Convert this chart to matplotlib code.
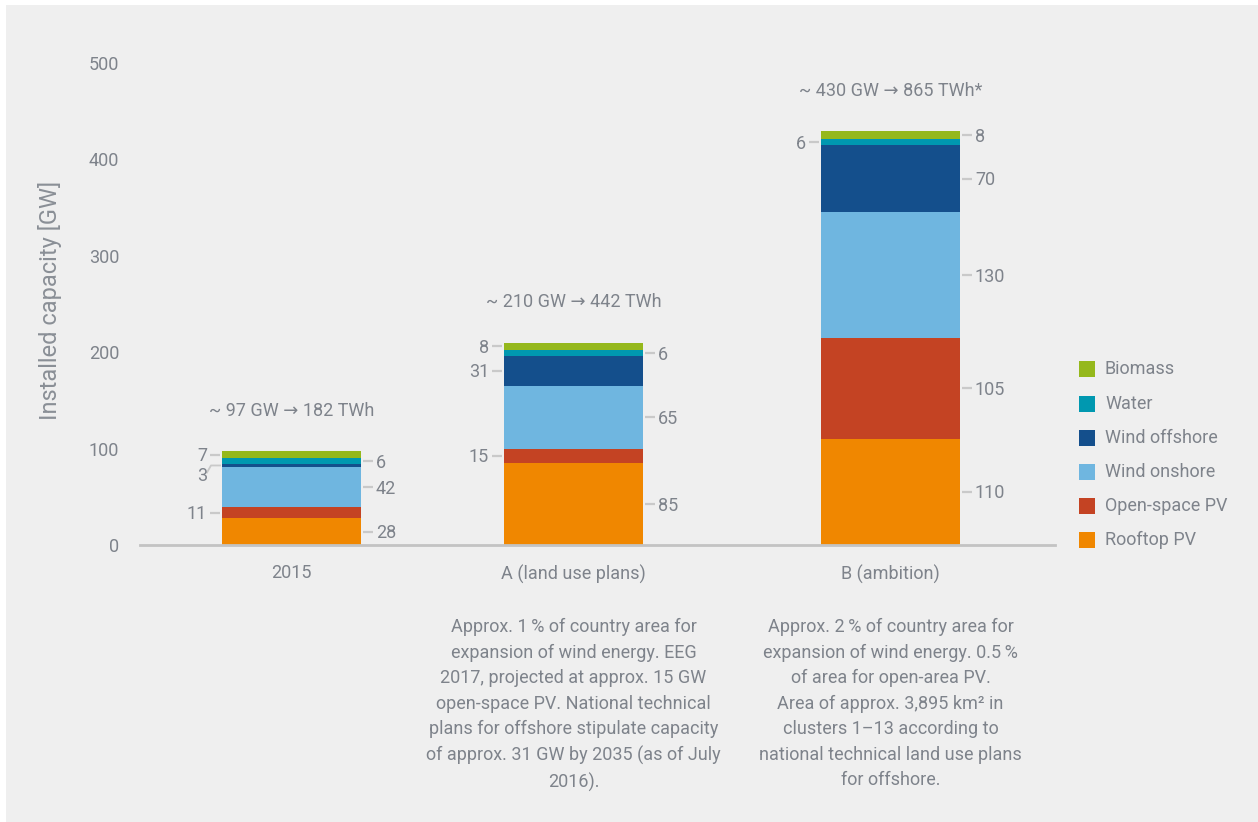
import matplotlib
matplotlib.use("Agg")
import matplotlib.pyplot as plt
from matplotlib.patches import Rectangle

# ---------------- data ----------------
scenarios = ["2015", "A (land use plans)", "B (ambition)"]
sources = ["Rooftop PV", "Open-space PV", "Wind onshore", "Wind offshore", "Water", "Biomass"]
rooftop_pv = [28, 85, 110]
open_space_pv = [11, 15, 105]
wind_onshore = [42, 65, 130]
wind_offshore = [3, 31, 70]
water = [6, 6, 6]
biomass = [7, 8, 8]
totals_text = ["~ 97 GW \u2192 182 TWh", "~ 210 GW \u2192 442 TWh", "~ 430 GW \u2192 865 TWh*"]
y_ticks = [0, 100, 200, 300, 400, 500]
y_label = "Installed capacity [GW]"
notes = [
    "",
    "Approx. 1\u2009% of country area for\nexpansion of wind energy. EEG\n2017, projected at approx. 15 GW\nopen-space PV. National technical\nplans for offshore stipulate capacity\nof approx. 31 GW by 2035 (as of July\n2016).",
    "Approx. 2\u2009% of country area for\nexpansion of wind energy. 0.5\u2009%\nof area for open-area PV.\nArea of approx. 3,895 km\u00b2 in\nclusters 1\u201313 according to\nnational technical land use plans\nfor offshore.",
]

# ---------------- style ----------------
colors = ["#f08700", "#c44323", "#6fb6e0", "#144f8c", "#0098b0", "#95b81c"]
sides = [
    ["R", "L", "R", "L3", "R", "L"],
    ["R", "L", "R", "L", "R", "L"],
    ["R", "R", "R", "R", "L", "R"],
]
txt_col = "#7e838b"
lead_col = "#c9c9c9"
fam = ["Roboto", "DejaVu Sans"]
plt.rcParams["font.family"] = fam

W, H = 1258, 822
fig = plt.figure(figsize=(W / 100, H / 100), dpi=100, facecolor="white")
fig.patches.append(Rectangle((6 / W, 0), 1 - 6 / W, 1 - 5 / H, transform=fig.transFigure,
                             facecolor="#efefef", edgecolor="none", zorder=-10))

ax = fig.add_axes([140 / W, (H - 545) / H, 915 / W, 482 / H])
ax.set_facecolor("none")
ax.set_xlim(140, 1055)
ax.set_ylim(0, 500)
for s in ["top", "right", "left"]:
    ax.spines[s].set_visible(False)
ax.spines["bottom"].set_color("#c3c3c3")
ax.spines["bottom"].set_linewidth(2)

xpos = [291.5, 573.5, 890.5]
bw = 139
series = [rooftop_pv, open_space_pv, wind_onshore, wind_offshore, water, biomass]

ypx = 482 / 500  # pixels per unit

for i, x in enumerate(xpos):
    bottom = 0
    for j, vals in enumerate(series):
        v = vals[i]
        ax.bar(x, v, width=bw, bottom=bottom, color=colors[j], edgecolor="none", zorder=2)
        mid = bottom + v / 2
        side = sides[i][j]
        left = x - bw / 2
        right = x + bw / 2
        if side == "R":
            ax.plot([right + 2, right + 12], [mid, mid], color=lead_col, lw=1.6, zorder=1,
                    solid_capstyle="butt")
            ax.text(right + 15, mid - 1.5 / ypx, str(v), ha="left", va="center", fontsize=13,
                    color=txt_col, family=fam)
        elif side == "L":
            ax.plot([left - 2, left - 12], [mid, mid], color=lead_col, lw=1.6, zorder=1,
                    solid_capstyle="butt")
            ax.text(left - 15, mid - 1.5 / ypx, str(v), ha="right", va="center", fontsize=13,
                    color=txt_col, family=fam)
        else:  # slanted leader
            low = mid - 8 / ypx
            ax.plot([left - 2, left - 11, left - 15], [mid, mid, mid - 7 / ypx],
                    color=lead_col, lw=1.3, zorder=1)
            ax.text(left - 15, low - 3 / ypx, str(v), ha="right", va="center", fontsize=13,
                    color=txt_col, family=fam)
        bottom += v
    ax.annotate(totals_text[i], xy=(x, bottom), xytext=(0, 29), textcoords="offset points",
                ha="center", va="center", fontsize=13, color=txt_col, family=fam)
    if notes[i]:
        ax.text(x, -76, notes[i], ha="center", va="top", fontsize=13, color=txt_col,
                family=fam, linespacing=1.53)

ax.set_xticks(xpos)
ax.set_xticklabels(scenarios, fontsize=13, color=txt_col, family=fam)
ax.tick_params(axis="x", length=0, pad=14)
ax.set_yticks(y_ticks)
ax.set_yticklabels([str(t) for t in y_ticks], fontsize=13, color=txt_col, family=fam)
ax.tick_params(axis="y", length=0, pad=15)

fig.text(50 / W, 1 - 300 / H, y_label, rotation=90, ha="center", va="center", fontsize=17,
         color="#8a8f96", family=fam)

# legend (top-down order: Biomass ... Rooftop PV)
leg_y = [369, 404, 438, 472, 506, 540]
for k, j in enumerate(range(len(sources) - 1, -1, -1)):
    yc = leg_y[k]
    fig.patches.append(Rectangle((1079 / W, 1 - (yc + 8) / H), 16 / W, 16 / H,
                                 transform=fig.transFigure, facecolor=colors[j],
                                 edgecolor="none"))
    fig.text(1105 / W, 1 - yc / H, sources[j], ha="left", va="center", fontsize=13,
             color=txt_col, family=fam)

fig.savefig("out.png", dpi=100, facecolor="white")
